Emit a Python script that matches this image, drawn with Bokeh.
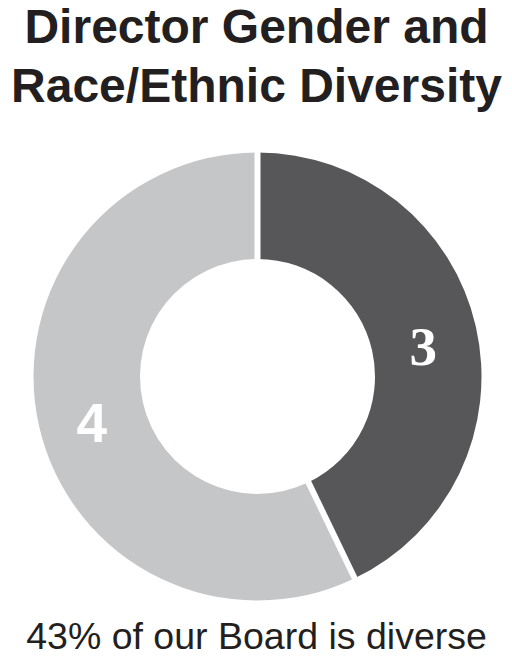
import math
from bokeh.plotting import figure
from bokeh.models import Range1d
from bokeh.core.properties import value
from bokeh.embed import file_html
from bokeh.resources import INLINE

# Data
categories = ["Diverse", "Not diverse"]
counts = [3, 4]
colors = ["#575759", "#c5c6c8"]
label_fonts = ["Liberation Serif", "Liberation Sans"]
title_lines = ["Director Gender and", "Race/Ethnic Diversity"]
caption = "43% of our Board is diverse"

W, H = 512, 661
p = figure(width=W, height=H, output_backend="svg", toolbar_location=None,
           x_range=Range1d(0, W), y_range=Range1d(0, H),
           min_border=0, outline_line_color=None)
p.axis.visible = False
p.grid.visible = False
p.background_fill_color = "white"
p.border_fill_color = "white"

def Y(img_y):
    return H - img_y

BASE_FIX = 0.36  # svg baseline correction, in em

cx, cy = 257, Y(376)
r_out, r_in = 224, 117.5

total = sum(counts)
start = math.pi / 2
starts, ends, mids = [], [], []
for c in counts:
    sweep = 2 * math.pi * c / total
    starts.append(start)
    ends.append(start - sweep)
    mids.append(start - sweep / 2)
    start -= sweep

p.annular_wedge(x=[cx] * len(counts), y=[cy] * len(counts), inner_radius=r_in, outer_radius=r_out,
                start_angle=starts, end_angle=ends, direction="clock",
                fill_color=colors, line_color=None)

# white separators at slice boundaries
for a in starts:
    p.segment(x0=[cx + (r_in - 5) * math.cos(a)], y0=[cy + (r_in - 5) * math.sin(a)],
              x1=[cx + (r_out + 5) * math.cos(a)], y1=[cy + (r_out + 5) * math.sin(a)],
              line_color="white", line_width=6)

r_lab = 170
label_dy = -9
digit_h = 38
fs_lab = 55
for c, m, f in zip(counts, mids, label_fonts):
    p.text(x=[cx + r_lab * math.cos(m)],
           y=[cy + r_lab * math.sin(m) + label_dy - digit_h / 2 + BASE_FIX * fs_lab],
           text=[str(c)], text_font=value(f), text_font_style="bold", text_font_size=f"{fs_lab}px",
           text_color="white", text_align="center", text_baseline="alphabetic")

fs_title = 48
p.text(x=[256, 256], y=[Y(43) + BASE_FIX * fs_title, Y(102) + BASE_FIX * fs_title], text=title_lines,
       text_font=value("Liberation Sans"), text_font_style="bold", text_font_size=f"{fs_title}px",
       text_color="#231f20", text_align="center", text_baseline="alphabetic")

fs_cap = 37.5
p.text(x=[256], y=[Y(649) + BASE_FIX * fs_cap], text=[caption],
       text_font=value("Liberation Sans"), text_font_size=f"{fs_cap}px",
       text_color="#231f20", text_align="center", text_baseline="alphabetic")

open("out.html", "w").write(file_html(p, INLINE))
